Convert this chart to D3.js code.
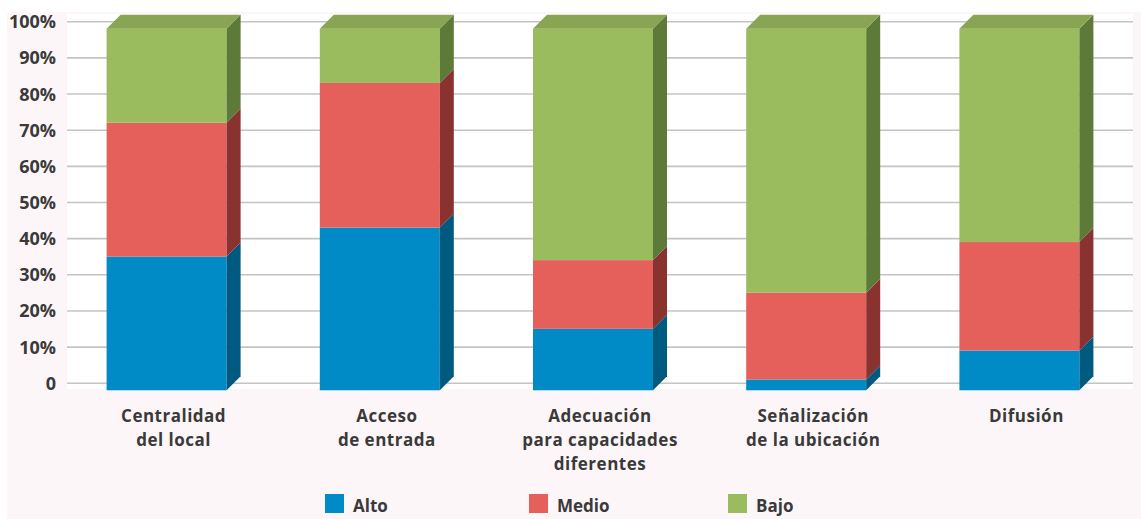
<!DOCTYPE html>
<html>
<head>
<meta charset="utf-8">
<script src="https://cdn.jsdelivr.net/npm/d3@7"></script>
<style>
  body { margin: 0; background: #fff; }
  svg text { font-family: "Open Sans", sans-serif; font-weight: 700; fill: #3a3a3a; }
</style>
</head>
<body>
<div class="chart"></div>
<script>
var width = 1141, height = 519;

// data
var categories = [
  ["Centralidad", "del local"],
  ["Acceso", "de entrada"],
  ["Adecuación", "para capacidades", "diferentes"],
  ["Señalización", "de la ubicación"],
  ["Difusión"]
];
var alto  = [37, 45, 17, 3, 11];
var medio = [37, 40, 19, 24, 30];
var bajo  = [26, 15, 64, 73, 59];
var seriesNames = ["Alto", "Medio", "Bajo"];
var yTicks = [0, 10, 20, 30, 40, 50, 60, 70, 80, 90, 100];

// colours: front, side, top
var colors = {
  Alto:  { front: "#008bc6", side: "#005a80", top: "#0070a0" },
  Medio: { front: "#e5605b", side: "#893230", top: "#c04a46" },
  Bajo:  { front: "#9bbb5f", side: "#5e7a38", top: "#89a453" }
};

var rows = categories.map(function(c, i) {
  return { i: i, Alto: alto[i], Medio: medio[i], Bajo: bajo[i] };
});
var stacked = d3.stack().keys(seriesNames)(rows);

var svg = d3.select('.chart')
  .append('svg')
  .attr('width', width)
  .attr('height', height);

// page backgrounds
svg.append('rect').attr('x', 7).attr('y', 12).attr('width', width - 7).attr('height', height - 12).attr('fill', '#fdf6f8');
svg.append('rect').attr('x', 67).attr('y', 14).attr('width', 1066).attr('height', 375).attr('fill', '#ffffff');

var x = d3.scaleBand().domain(d3.range(categories.length)).range([67, 1133]);
var y = d3.scaleLinear().domain([0, 100]).range([383.3, 21.7]);

var depth = 14, half = 7, barW = 120;

// gridlines
svg.append('g').selectAll('line')
  .data(yTicks)
  .enter().append('line')
  .attr('x1', 67).attr('x2', 1133)
  .attr('y1', function(d) { return y(d); })
  .attr('y2', function(d) { return y(d); })
  .attr('stroke', '#c4c4c4')
  .attr('stroke-width', 1.6);

// y labels
svg.append('g').selectAll('text')
  .data(yTicks)
  .enter().append('text')
  .attr('x', 56)
  .attr('y', function(d) { return y(d); })
  .attr('dy', '0.36em')
  .attr('text-anchor', 'end')
  .style('font-size', '18px')
  .text(function(d) { return d === 0 ? "0" : d + "%"; });

// bars
function fx(i) { return x(i) + x.bandwidth() / 2 - (barW + depth) / 2; }
function fy(v) { return y(v) + half; }

var gBars = svg.append('g');
rows.forEach(function(r, i) {
  var left = fx(i), right = left + barW;
  stacked.forEach(function(s, k) {
    var d = s[i], c = colors[s.key];
    if (d[1] - d[0] <= 0) return;
    var y0 = fy(d[0]), y1 = fy(d[1]);
    gBars.append('rect')
      .attr('x', left).attr('y', y1)
      .attr('width', barW).attr('height', y0 - y1)
      .attr('fill', c.front);
    gBars.append('path')
      .attr('d', 'M' + right + ',' + y0 + 'L' + right + ',' + y1 +
        'L' + (right + depth) + ',' + (y1 - depth) +
        'L' + (right + depth) + ',' + (y0 - depth) + 'Z')
      .attr('fill', c.side);
    if (k === stacked.length - 1) {
      gBars.append('path')
        .attr('d', 'M' + left + ',' + y1 + 'L' + right + ',' + y1 +
          'L' + (right + depth) + ',' + (y1 - depth) +
          'L' + (left + depth) + ',' + (y1 - depth) + 'Z')
        .attr('fill', c.top);
    }
  });
});

// x labels
var gx = svg.append('g');
categories.forEach(function(lines, i) {
  var cx = x(i) + x.bandwidth() / 2;
  var t = gx.append('text')
    .attr('text-anchor', 'middle')
    .style('font-size', '17px')
    .style('letter-spacing', '0.5px');
  lines.forEach(function(l, j) {
    t.append('tspan').attr('x', cx).attr('y', 421.5 + j * 24.3).text(l);
  });
});

// legend
var legendX = [325, 529, 728];
var legend = svg.append('g').selectAll('g')
  .data(seriesNames)
  .enter().append('g')
  .attr('transform', function(d, i) { return 'translate(' + legendX[i] + ',494)'; });
legend.append('rect')
  .attr('width', 19).attr('height', 19)
  .attr('fill', function(d) { return colors[d].front; });
legend.append('text')
  .attr('x', 28).attr('y', 18)
  .style('font-size', '17px')
  .text(function(d) { return d; });
</script>
</body>
</html>
